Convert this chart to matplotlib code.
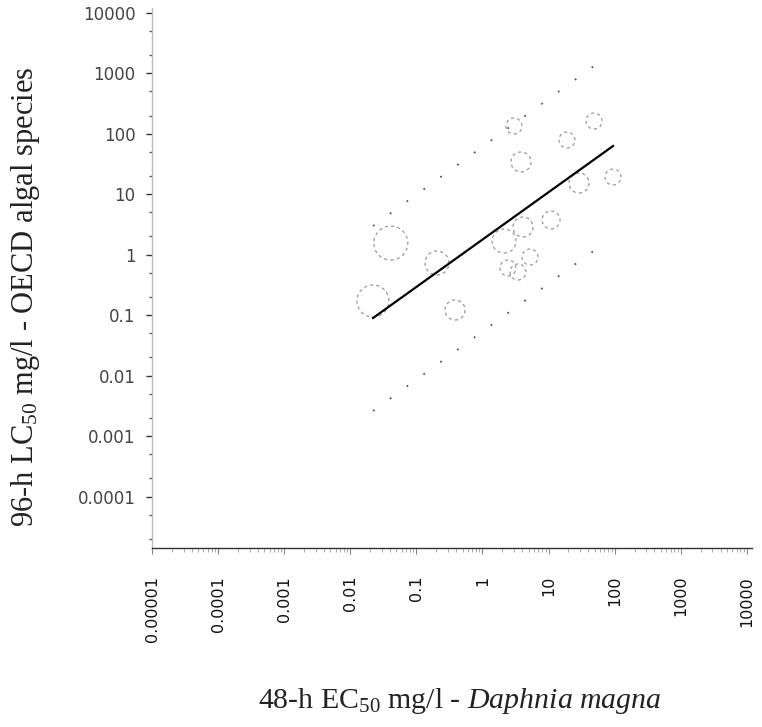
import matplotlib
matplotlib.use("Agg")
import matplotlib.pyplot as plt
import matplotlib.ticker as mticker
import numpy as np

# --- data (mg/l) ---
daphnia_ec50 = [0.022, 0.041, 0.205, 0.384, 3.0, 3.83, 19.0, 48.7,
                28.9, 94.4, 10.9, 4.1, 2.12, 5.24, 2.43, 3.45]
algae_lc50 = [0.172, 1.56, 0.729, 0.122, 134, 34.1, 78.7, 162,
              15.3, 19.2, 3.75, 2.87, 1.68, 0.916, 0.603, 0.518]
# relative bubble weight (circle radius in the reference)
weights = [16, 17, 12, 10, 8, 10, 8, 8, 10, 8, 9, 10, 12, 8, 8, 8]

# regression line and prediction band end points
fit_x = [0.0221, 94.4]
fit_y = [0.0899, 62.6]
upper_x = [0.0221, 80.0]
upper_y = [2.98, 1950]
lower_x = [0.0221, 75.0]
lower_y = [0.00261, 1.65]

xticks = [1e-5, 1e-4, 1e-3, 1e-2, 1e-1, 1, 10, 100, 1000, 10000]
xticklabels = ["0.00001", "0.0001", "0.001", "0.01", "0.1", "1", "10", "100", "1000", "10000"]
yticks = [1e-4, 1e-3, 1e-2, 1e-1, 1, 10, 100, 1000, 10000]
yticklabels = ["0.0001", "0.001", "0.01", "0.1", "1", "10", "100", "1000", "10000"]

plt.rcParams['mathtext.fontset'] = 'custom'
plt.rcParams['mathtext.rm'] = 'Liberation Serif'
plt.rcParams['mathtext.it'] = 'Liberation Serif:italic'

fig = plt.figure(figsize=(7.62, 7.27), dpi=100)
ax = fig.add_axes([152 / 762, 1 - 548 / 727, 600 / 762, 540 / 727])
ax.set_xscale('log')
ax.set_yscale('log')
ax.set_xlim(1e-5, 10 ** 4.078)
ax.set_ylim(10 ** -4.848, 10 ** 4.078)

# bubbles
sizes = [(1.44 * w) ** 2 for w in weights]
ax.scatter(daphnia_ec50, algae_lc50, s=sizes, facecolors='none',
           edgecolors='#999999', linewidths=0.9, linestyles=(0, (2.5, 2.5)), zorder=3)

# fit and bands
ax.plot(fit_x, fit_y, color='black', lw=1.6, zorder=4)
for bx, by in [(upper_x, upper_y), (lower_x, lower_y)]:
    ax.plot(bx, by, color='#555555', lw=1.3, linestyle=(0, (1, 10.5)),
            dash_capstyle='butt', zorder=2)

# axes styling
for side in ['top', 'right']:
    ax.spines[side].set_visible(False)
ax.spines['left'].set_color('#c4bcb8')
ax.spines['left'].set_linewidth(1.0)
ax.spines['bottom'].set_color('#333333')
ax.spines['bottom'].set_linewidth(1.0)

ax.set_xticks(xticks)
ax.set_xticklabels(xticklabels, rotation=90, fontsize=11.5, color='#111111',
                   va='top', ha='center')
ax.xaxis.set_minor_locator(mticker.LogLocator(base=10, subs=np.arange(2, 10), numticks=30))
ax.xaxis.set_minor_formatter(mticker.NullFormatter())
ax.tick_params(axis='x', which='major', length=4, width=0.8, color='#888888', pad=16)
ax.tick_params(axis='x', which='minor', length=3, width=0.7, color='#aaaaaa')

ax.set_yticks(yticks)
ax.set_yticklabels(yticklabels, fontsize=12, color='#444444')
ax.yaxis.set_minor_locator(mticker.LogLocator(base=10, subs=(2.0, 5.0), numticks=30))
ax.yaxis.set_minor_formatter(mticker.NullFormatter())
ax.tick_params(axis='y', which='major', length=4, width=1.0, color='#333333', pad=8)
ax.tick_params(axis='y', which='minor', length=2, width=1.0, color='#555555')

ax.set_ylabel("96-h LC$_{50}$ mg/l - OECD algal species",
              fontsize=22, family='Liberation Serif', color='#222222', va='center')
ax.yaxis.set_label_coords(-0.21, 0.465)
ax.set_xlabel("48-h EC$_{50}$ mg/l - $\\it{Daphnia\\ magna}$",
              fontsize=21.5, family='Liberation Serif', color='#222222', va='center')
ax.xaxis.set_label_coords(0.513, -0.283)

fig.savefig("out.png", dpi=100, facecolor='white')
